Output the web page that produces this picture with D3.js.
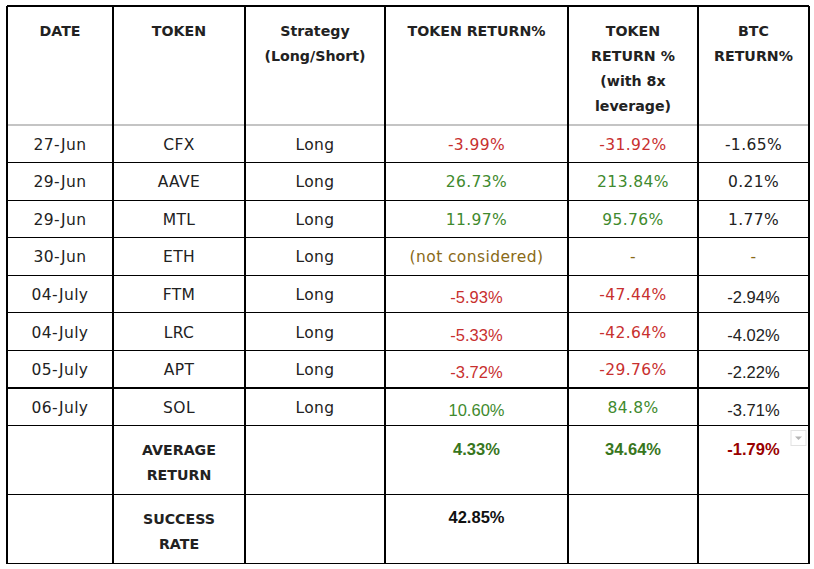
<!DOCTYPE html>
<html>
<head>
<meta charset="utf-8">
<script src="https://cdn.jsdelivr.net/npm/d3@7"></script>
<style>
  html, body { margin:0; padding:0; background:#fff; }
  svg { display:block; }
</style>
</head>
<body>
<div id="chart"></div>
<script>
// Table data
const headers = [
  ['DATE'],
  ['TOKEN'],
  ['Strategy', '(Long/Short)'],
  ['TOKEN RETURN%'],
  ['TOKEN', 'RETURN %', '(with 8x', 'leverage)'],
  ['BTC', 'RETURN%']
];
const dates = ['27-Jun', '29-Jun', '29-Jun', '30-Jun', '04-July', '04-July', '05-July', '06-July'];
const tokens = ['CFX', 'AAVE', 'MTL', 'ETH', 'FTM', 'LRC', 'APT', 'SOL'];
const strategies = ['Long', 'Long', 'Long', 'Long', 'Long', 'Long', 'Long', 'Long'];
const tokenReturn = ['-3.99%', '26.73%', '11.97%', '(not considered)', '-5.93%', '-5.33%', '-3.72%', '10.60%'];
const leverageReturn = ['-31.92%', '213.84%', '95.76%', '-', '-47.44%', '-42.64%', '-29.76%', '84.8%'];
const btcReturn = ['-1.65%', '0.21%', '1.77%', '-', '-2.94%', '-4.02%', '-2.22%', '-3.71%'];
const averageReturn = ['4.33%', '34.64%', '-1.79%'];
const successRate = '42.85%';

// Layout
const width = 814, height = 569;
const tableLeft = 7, tableTop = 6;
const colWidths = [106, 132, 140, 183, 130, 111];
const headerH = 119, summaryH = 69;
const dataTop = tableTop + headerH, dataBottom = 425.5;

const xEdges = [tableLeft, ...d3.cumsum(colWidths).map(d => tableLeft + d)];
const tableRight = xEdges[xEdges.length - 1];
const colCenter = i => (xEdges[i] + xEdges[i + 1]) / 2;

const y = d3.scaleBand().domain(d3.range(dates.length)).range([dataTop, dataBottom]);
const summaryTop = [dataBottom, dataBottom + summaryH];
const tableBottom = dataBottom + 2 * summaryH;

const POP = '"DejaVu Sans", sans-serif';
const ARIAL = '"Liberation Sans", Arial, sans-serif';
const RED = '#c8302f', GREEN = '#3f8a2e', GOLD = '#8a6a17', INK = '#222';

const colorOf = v => v === '(not considered)' || v === '-' ? GOLD
  : v.startsWith('-') ? RED : GREEN;

const svg = d3.select('#chart').append('svg')
  .attr('width', width).attr('height', height);
svg.append('rect').attr('width', width).attr('height', height).attr('fill', '#fff');

// grid
const grid = svg.append('g').attr('stroke', '#000').attr('stroke-width', 1.2).attr('shape-rendering', 'crispEdges');
const hLines = [tableTop, ...d3.range(1, dates.length + 1).map(i => y(i - 1) + y.bandwidth()), summaryTop[1], tableBottom];
grid.selectAll('line.h').data(hLines).join('line')
  .attr('x1', tableLeft).attr('x2', tableRight).attr('y1', d => d).attr('y2', d => d);
grid.append('line').attr('x1', tableLeft).attr('x2', tableRight).attr('y1', dataTop).attr('y2', dataTop)
  .attr('stroke', '#c4c4c4');
grid.selectAll('line.v').data(xEdges).join('line')
  .attr('x1', d => d).attr('x2', d => d).attr('y1', tableTop).attr('y2', tableBottom);

// header text
const hdr = svg.append('g').attr('text-anchor', 'middle').attr('font-family', POP)
  .attr('font-weight', 'bold').attr('font-size', 14.2).attr('fill', INK);
headers.forEach((lines, i) => {
  lines.forEach((t, j) => {
    hdr.append('text').attr('x', colCenter(i)).attr('y', tableTop + 30 + j * 25).text(t);
  });
});

// data rows
const body = svg.append('g').attr('text-anchor', 'middle');
function cell(col, row, text, opts = {}) {
  const arial = opts.arial;
  body.append('text')
    .attr('x', colCenter(col))
    .attr('y', y(row) + y.bandwidth() / 2 + (arial ? 9 : 6))
    .attr('font-family', arial ? ARIAL : POP)
    .attr('font-size', arial ? 16.5 : 15.5)
    .attr('letter-spacing', arial ? 0 : 0.4)
    .attr('fill', opts.color || INK)
    .text(text);
}
const arialToken = [false, false, false, false, true, true, true, true];
const arialBtc = [false, false, false, false, true, true, true, true];
dates.forEach((d, i) => {
  cell(0, i, d);
  cell(1, i, tokens[i]);
  cell(2, i, strategies[i]);
  cell(3, i, tokenReturn[i], { color: colorOf(tokenReturn[i]), arial: arialToken[i] });
  cell(4, i, leverageReturn[i], { color: colorOf(leverageReturn[i]) });
  cell(5, i, btcReturn[i], { color: btcReturn[i] === '-' ? GOLD : INK, arial: arialBtc[i] });
});

// summary rows
const sum = svg.append('g').attr('text-anchor', 'middle').attr('font-weight', 'bold');
[['AVERAGE', 'RETURN'], ['SUCCESS', 'RATE']].forEach((lines, r) => {
  lines.forEach((t, j) => {
    sum.append('text').attr('x', colCenter(1)).attr('y', summaryTop[r] + 29 + j * 25)
      .attr('font-family', POP).attr('font-size', 14.2).attr('fill', INK).text(t);
  });
});
const avgColors = ['#38761d', '#38761d', '#990000'];
averageReturn.forEach((v, i) => {
  sum.append('text').attr('x', colCenter(3 + i)).attr('y', summaryTop[0] + 29)
    .attr('font-family', ARIAL).attr('font-size', 16.5).attr('fill', avgColors[i]).text(v);
});
sum.append('text').attr('x', colCenter(3)).attr('y', summaryTop[1] + 28)
  .attr('font-family', ARIAL).attr('font-size', 16.5).attr('fill', '#111').text(successRate);

// small dropdown marker in the corner of the BTC average cell
const dd = svg.append('g').attr('transform', `translate(${tableRight - 18},${summaryTop[0] + 5})`);
dd.append('rect').attr('width', 15).attr('height', 15).attr('fill', '#fff').attr('stroke', '#e2e2e2');
dd.append('path').attr('d', 'M4,6 L11,6 L7.5,9.5 Z').attr('fill', '#b5b5b5');
</script>
</body>
</html>
